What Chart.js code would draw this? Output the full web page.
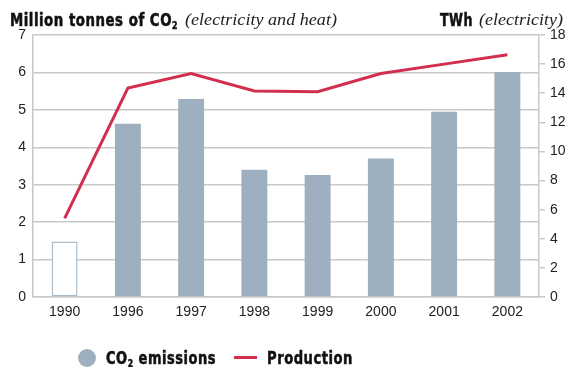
<!DOCTYPE html>
<html>
<head>
<meta charset="utf-8">
<script src="https://cdn.jsdelivr.net/npm/chart.js@4.4.1/dist/chart.umd.min.js"></script>
<style>
  html, body { margin: 0; padding: 0; background: #fff; }
  #wrap { position: relative; width: 568px; height: 367px; overflow: hidden; }
  canvas { position: absolute; left: 0; top: 0; }
  .fit { position: absolute; white-space: nowrap; transform-origin: 0 0; line-height: 20px; }
  .cond { font-family: "Liberation Sans Narrow", "DejaVu Sans Condensed", "Liberation Sans", sans-serif; font-weight: bold; color: #111; font-size: 17px; letter-spacing: 0.6px; -webkit-text-stroke: 0.5px #111; }
  .ital { font-family: "Liberation Serif", "DejaVu Serif", serif; font-style: italic; font-weight: normal; color: #222; font-size: 17px; }
  sub { font-size: 10px; vertical-align: -3px; line-height: 0; }
  .dot { position: absolute; left: 78px; top: 349px; width: 18px; height: 18px; border-radius: 50%; background: #9eb0bf; }
  .dash { position: absolute; left: 234px; top: 356px; width: 23px; height: 3px; background: #d22f4f; }
</style>
</head>
<body>
<div id="wrap">
  <canvas id="chart" width="568" height="367"></canvas>
  <div class="fit cond" data-w="168" style="left:10px; top:10px">Million tonnes of CO<sub>2</sub></div>
  <div class="fit ital" data-w="152" style="left:185px; top:10px">(electricity and heat)</div>
  <div class="fit cond" data-w="33" style="left:440px; top:10px">TWh</div>
  <div class="fit ital" data-w="84" style="left:479px; top:10px">(electricity)</div>
  <div class="dot"></div>
  <div class="fit cond" data-w="110" style="left:106px; top:348px">CO<sub>2</sub> emissions</div>
  <div class="dash"></div>
  <div class="fit cond" data-w="86" style="left:267px; top:348px">Production</div>
</div>
<script>
// years on the x axis
const years = ['1990', '1996', '1997', '1998', '1999', '2000', '2001', '2002'];
// million tonnes CO2 (left axis)
const emissions = [1.48, 4.63, 5.29, 3.40, 3.26, 3.70, 4.95, 6.01];
// TWh electricity production (right axis)
const production = [5.4, 14.35, 15.35, 14.15, 14.1, 15.35, 16.0, 16.65];

const barGrey = '#9eb0bf';
const gridGrey = '#c9c9c9';
const tickFont = { family: 'Liberation Sans, Arial, sans-serif', size: 14 };

// squeeze the heading/legend texts to the widths of the original lettering
document.querySelectorAll('.fit').forEach(function(el) {
    const w = el.getBoundingClientRect().width;
    el.style.transform = 'scaleX(' + (el.dataset.w / w) + ')';
});

const myChart = new Chart(document.getElementById('chart'), {
    type: 'bar',
    data: {
        labels: years,
        datasets: [
            {
                type: 'line',
                label: 'Production',
                data: production,
                yAxisID: 'y2',
                borderColor: '#d22f4f',
                borderWidth: 3,
                pointRadius: 0,
                tension: 0,
                order: 0
            },
            {
                label: 'CO2 emissions',
                data: emissions,
                yAxisID: 'y',
                // the 1990 bar is drawn as an outline only
                backgroundColor: (c) => c.dataIndex === 0 ? '#ffffff' : barGrey,
                borderColor: (c) => c.dataIndex === 0 ? '#a9bccb' : barGrey,
                borderWidth: (c) => c.dataIndex === 0 ? 1.5 : 0,
                borderSkipped: false,
                barPercentage: 0.41,
                categoryPercentage: 1,
                order: 1
            }
        ]
    },
    options: {
        responsive: false,
        animation: false,
        layout: { padding: { top: 35, left: 0, right: 0, bottom: 0 } },
        plugins: { legend: { display: false }, tooltip: { enabled: false } },
        scales: {
            x: {
                offset: true,
                grid: { display: false, drawTicks: false },
                border: { display: true, color: gridGrey, width: 1.5 },
                ticks: { color: '#222', font: tickFont, padding: 7 },
                afterFit: (s) => { s.height = 70; }
            },
            y: {
                position: 'left',
                min: 0, max: 7,
                ticks: { stepSize: 1, color: '#222', font: tickFont, padding: 7 },
                grid: { color: gridGrey, lineWidth: 1.5, drawTicks: false },
                border: { display: true, color: gridGrey, width: 1.5 },
                afterFit: (s) => { s.width = 33; }
            },
            y2: {
                position: 'right',
                min: 0, max: 18,
                ticks: { stepSize: 2, color: '#222', font: tickFont, padding: 5 },
                grid: { drawOnChartArea: false, color: gridGrey, lineWidth: 1.5, tickLength: 6 },
                border: { display: true, color: gridGrey, width: 1.5 },
                afterFit: (s) => { s.width = 29; }
            }
        }
    }
});
</script>
</body>
</html>
